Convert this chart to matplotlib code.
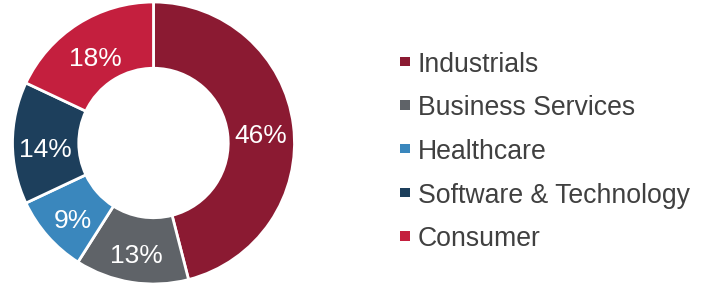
import matplotlib.pyplot as plt
from matplotlib.patches import Rectangle

plt.rcParams['font.family'] = ['Liberation Sans', 'DejaVu Sans']

# sector shares (%)
sectors = ['Industrials', 'Business Services', 'Healthcare', 'Software & Technology', 'Consumer']
shares = [46, 13, 9, 14, 18]
colors = ['#8B1A32', '#5F6368', '#3A87BD', '#1D3F5C', '#C41F3E']

W, H = 707, 286
fig = plt.figure(figsize=(W / 100, H / 100), dpi=100)
ax = fig.add_axes([12 / W, 2 / H, 283 / W, 282 / H])

wedges, texts, autotexts = ax.pie(
    shares, colors=colors, startangle=90, counterclock=False,
    autopct='%d%%', pctdistance=0.765, radius=1,
    wedgeprops=dict(width=0.47, edgecolor='white', linewidth=2),
    textprops=dict(color='white', fontsize=19))
for t in autotexts:
    t.set_va('center_baseline')
    x, y = t.get_position()
    t.set_position((x, y - 0.03))
ax.set_xlim(-1, 1)
ax.set_ylim(-1, 1)
ax.set_aspect('equal')
ax.axis('off')

# legend drawn by hand
row0, step = 61.5, 43.7
for i, (name, c) in enumerate(zip(sectors, colors)):
    yc = row0 + i * step
    fig.add_artist(Rectangle((400 / W, 1 - (yc + 4.5) / H), 9.5 / W, 9.5 / H,
                             transform=fig.transFigure, facecolor=c, edgecolor='none'))
    fig.text(418 / W, 1 - yc / H, name, fontsize=19.2, color='#404040',
             va='center_baseline', ha='left')

plt.savefig('out.png', dpi=100)
